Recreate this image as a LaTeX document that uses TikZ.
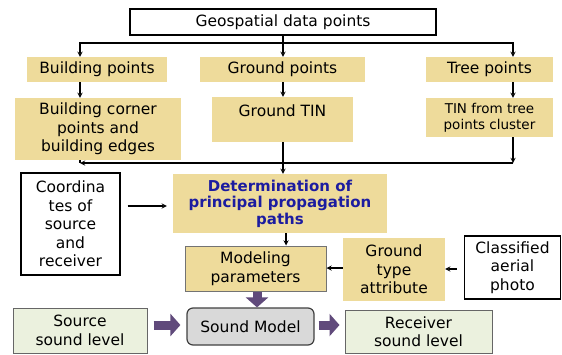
\documentclass[tikz,border=0pt]{standalone}
\usepackage{fontspec}
\setmainfont{DejaVu Sans}
\usepackage{tikz}
\usetikzlibrary{arrows}
\usetikzlibrary{arrows.meta}
\usetikzlibrary{calc}
\definecolor{tan}{RGB}{238,219,155}
\definecolor{lgreen}{RGB}{235,241,222}
\definecolor{plum}{RGB}{96,74,123}
\definecolor{navyblue}{RGB}{28,28,160}
\tikzstyle{block} = [rectangle,align=center,inner sep=1pt,font=\fontsize{15.5}{18.5}\selectfont]
\tikzstyle{whitebox} = [block,draw,fill=white,line width=1.2pt]
\tikzstyle{tanbox} = [block,fill=tan]
\tikzstyle{greenbox} = [block,draw=black!60,line width=1pt,fill=lgreen]
\tikzstyle{connector} = [-stealth,line width=1.3pt]
\tikzstyle{fat} = [draw=plum,line width=9pt,-{Triangle[length=10pt,width=22pt]},color=plum]

\begin{document}
\begin{tikzpicture}[x=1pt,y=-1pt]
\useasboundingbox (0,0) rectangle (562,354);

  \node[whitebox, minimum width=306, minimum height=26] (geo) at (283,22) {Geospatial data points};

  \node[tanbox, minimum width=140, minimum height=25] (build) at (97,69.5) {Building points};
  \node[tanbox, minimum width=165, minimum height=25] (ground) at (282.5,69.5) {Ground points};
  \node[tanbox, minimum width=127, minimum height=25] (tree) at (489.5,69.5) {Tree points};

  \node[tanbox, minimum width=166, minimum height=62] (corner) at (98,129) {Building corner\\points and\\building edges};
  \node[tanbox, minimum width=141, minimum height=45] (tin) at (282.5,119.5) {Ground TIN\\ \mbox{}};
  \node[tanbox, minimum width=127, minimum height=39, font=\fontsize{13.5}{16}\selectfont] (treetin) at (489.5,117.5) {TIN from tree\\points cluster};

  \node[tanbox, minimum width=214, minimum height=59, text=navyblue, font=\fontsize{15}{16.5}\selectfont\bfseries] (paths) at (280,203.5) {Determination of\\principal propagation\\paths};
  \node[whitebox, minimum width=99, minimum height=102] (coord) at (70.5,224) {Coordina\\tes of\\source\\and\\receiver};

  \node[tanbox, draw=black!55, line width=1pt, minimum width=141, minimum height=45] (model) at (255.5,268.5) {Modeling\\parameters};
  \node[tanbox, minimum width=102, minimum height=63] (gtype) at (394,269.5) {Ground\\type\\attribute};
  \node[whitebox, minimum width=96, minimum height=63] (photo) at (512.5,267.5) {Classified\\aerial\\photo};

  \node[block, draw=black!75, line width=1.2pt, rounded corners=6pt, fill=black!15, minimum width=127, minimum height=37] (sound) at (250.5,326.5) {Sound Model};
  \node[greenbox, minimum width=134, minimum height=45] (source) at (80,330.5) {Source\\sound level};
  \node[greenbox, minimum width=147, minimum height=43] (recv) at (418.5,331.5) {Receiver\\sound level};

  \coordinate (topbus) at (283,43);
  \coordinate (busL) at (80,163);
  \coordinate (busR) at (513,163);

% now link the nodes

\draw [line width=1.3pt] (geo.south -| topbus) -- (topbus);
\draw [connector] (topbus) -- (ground.north -| topbus);
\draw [connector] (topbus) -| (build.north -| busL);
\draw [connector] (topbus) -| (tree.north -| busR);
\draw [connector] (build.south -| busL) -- (corner.north -| busL);
\draw [connector] (ground.south -| topbus) -- (tin.north -| topbus);
\draw [connector] (tree.south -| busR) -- (treetin.north -| busR);
\draw [connector] (treetin.south -| busR) -- (busR);
\draw [connector] (busR) -- (busL);
\draw [line width=1.3pt] (corner.south -| busL) -- (busL);
\draw [connector] (tin.south -| topbus) -- (paths.north -| topbus);
\draw [connector, shorten <=7pt, shorten >=6pt] (coord.east |- 0,206) -- (paths.west |- 0,206);
\draw [connector] (paths.south -| 286,0) -- (model.north -| 286,0);
\draw [connector] (gtype.west |- 0,268) -- (model.east |- 0,268);
\draw [connector, shorten <=7pt] (photo.west |- 0,269) -- (gtype.east |- 0,269);
\draw [fat] (model.south -| 257,0) -- (sound.north -| 257,0);
\draw [fat, shorten <=6pt, shorten >=6pt] (source.east |- 0,325) -- (sound.west |- 0,325);
\draw [fat, shorten <=4pt, shorten >=5pt] (sound.east |- 0,325) -- (recv.west |- 0,325);
\end{tikzpicture}
\end{document}
